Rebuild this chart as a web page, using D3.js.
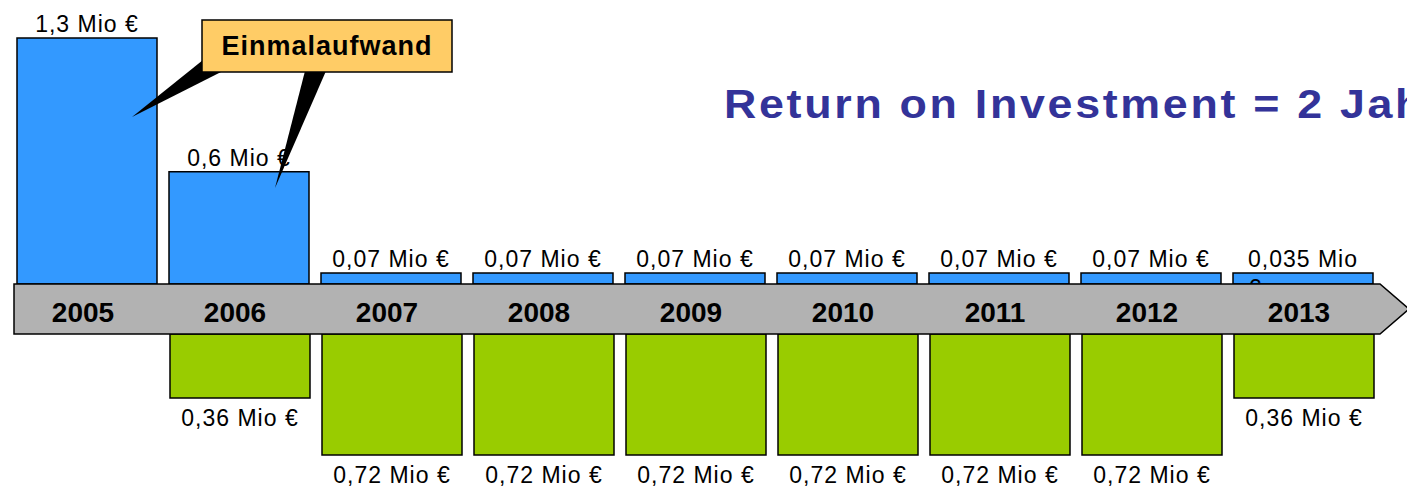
<!DOCTYPE html>
<html>
<head>
<meta charset="utf-8">
<script src="https://cdn.jsdelivr.net/npm/d3@7/dist/d3.min.js"></script>
<style>
  body { margin: 0; background: #fff; }
  svg { display: block; font-family: "Liberation Sans", Arial, sans-serif; }
  .val { font-size: 23px; letter-spacing: 1px; fill: #000; }
  .year { font-size: 28px; font-weight: bold; fill: #000; }
</style>
</head>
<body>
<script>
// years on the time arrow
var years = ["2005", "2006", "2007", "2008", "2009", "2010", "2011", "2012", "2013"];
// cost per year (Mio €), drawn above the arrow
var costs = [1.3, 0.6, 0.07, 0.07, 0.07, 0.07, 0.07, 0.07, 0.035];
// savings per year (Mio €), drawn below the arrow, null = none
var savings = [null, 0.36, 0.72, 0.72, 0.72, 0.72, 0.72, 0.72, 0.36];

var title = "Return on Investment = 2 Jahre";
var calloutText = "Einmalaufwand";

var W = 1407, H = 488;
var arrowTop = 284, arrowBot = 334;
var minBar = 11; // smallest bar height the slide shows

function fmt(v) { return String(v).replace(".", ",") + " Mio €"; }

var svg = d3.select("body").append("svg").attr("width", W).attr("height", H);

var x = d3.scaleBand().domain(years).range([17, 1373]).paddingInner(12 / 152).paddingOuter(0);
// heights as drawn in the slide (not strictly proportional)
var upScale = d3.scaleLinear().domain([0, 0.07, 1.3]).range([0, 11, 246]);
var hUp = function (v) { return Math.max(minBar, upScale(v)); };
var hDown = d3.scaleLinear().domain([0, 0.36, 0.72]).range([0, 64, 121]);

var up = years.map(function (y, i) { return { year: y, v: costs[i] }; });
var down = years.map(function (y, i) { return { year: y, v: savings[i] }; }).filter(function (d) { return d.v != null; });

// blue bars
svg.selectAll("rect.cost").data(up).enter().append("rect")
  .attr("class", "cost")
  .attr("x", function (d) { return x(d.year); })
  .attr("y", function (d) { return arrowTop - hUp(d.v); })
  .attr("width", x.bandwidth())
  .attr("height", function (d) { return hUp(d.v); })
  .attr("fill", "#3399FF").attr("stroke", "#000").attr("stroke-width", 1.5);

// labels above blue bars (wrap if too wide for the bar)
svg.selectAll("text.cost").data(up).enter().append("text")
  .attr("class", "val cost")
  .attr("text-anchor", "middle")
  .attr("x", function (d) { return x(d.year) + x.bandwidth() / 2; })
  .attr("y", function (d) { return arrowTop - hUp(d.v) - 6; })
  .each(function (d) {
    var t = d3.select(this);
    t.text(fmt(d.v));
    if (this.getComputedTextLength() > x.bandwidth() - 16) {
      var words = fmt(d.v).split(" ");
      var last = words.pop();
      t.text(words.join(" "));
      var bb = this.getBBox();
      t.append("tspan").attr("x", bb.x).attr("dy", 29).attr("text-anchor", "start").text(last);
    }
  });

// green bars
svg.selectAll("rect.save").data(down).enter().append("rect")
  .attr("class", "save")
  .attr("x", function (d) { return x(d.year) + 1; })
  .attr("y", arrowBot)
  .attr("width", x.bandwidth())
  .attr("height", function (d) { return hDown(d.v); })
  .attr("fill", "#99CC00").attr("stroke", "#000").attr("stroke-width", 1.5);

svg.selectAll("text.save").data(down).enter().append("text")
  .attr("class", "val save")
  .attr("text-anchor", "middle")
  .attr("x", function (d) { return x(d.year) + 1 + x.bandwidth() / 2; })
  .attr("y", function (d) { return arrowBot + hDown(d.v) + 28; })
  .text(function (d) { return fmt(d.v); });

// the time arrow
var body = 1380, tip = 1409;
svg.append("path")
  .attr("d", "M14," + arrowTop + "H" + body + "L" + tip + "," + (arrowTop + arrowBot) / 2 +
    "L" + body + "," + arrowBot + "H14Z")
  .attr("fill", "#B2B2B2").attr("stroke", "#000").attr("stroke-width", 1.5);

svg.selectAll("text.year").data(years).enter().append("text")
  .attr("class", "year")
  .attr("text-anchor", "middle")
  .attr("x", function (d) { return x(d) + x.bandwidth() / 2 - 4; })
  .attr("y", 322)
  .text(function (d) { return d; });

// callout "Einmalaufwand"
svg.append("path").attr("d", "M203,60L223,71L132,117Z").attr("fill", "#000");
svg.append("path").attr("d", "M305,71L326,71L275,188Z").attr("fill", "#000");
svg.append("rect").attr("x", 202).attr("y", 20).attr("width", 250).attr("height", 52)
  .attr("fill", "#FFCC66").attr("stroke", "#000").attr("stroke-width", 1.5);
svg.append("text").attr("x", 327).attr("y", 55).attr("text-anchor", "middle")
  .style("font-size", "27px").style("font-weight", "bold").style("letter-spacing", "1px")
  .text(calloutText);

// headline, wide and running off the right edge as on the slide
svg.append("text")
  .attr("transform", "translate(724,118) scale(1.12,1)")
  .style("font-size", "40px").style("font-weight", "bold")
  .style("letter-spacing", "2.4px")
  .attr("fill", "#333399")
  .text(title);
</script>
</body>
</html>
